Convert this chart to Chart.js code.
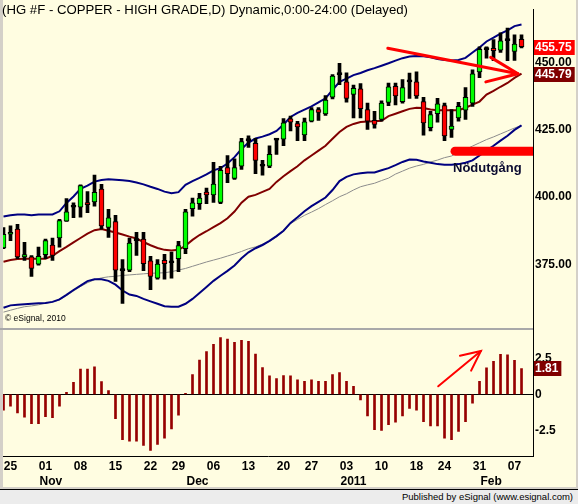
<!DOCTYPE html>
<html>
<head>
<meta charset="utf-8">
<script src="https://cdn.jsdelivr.net/npm/chart.js@4.4.1/dist/chart.umd.min.js"></script>
<style>
  body { margin: 0; width: 578px; height: 504px; position: relative; overflow: hidden; background: #d4d0c8; }
  #pane { position: absolute; left: 3px; top: 0; width: 573px; height: 487px; background: #fffde1; }
  #chart { position: absolute; left: 0; top: 0; }
  .lbl { position: absolute; white-space: nowrap; font-family: "Liberation Sans", Arial, sans-serif; color: #000; }
  #status { position: absolute; left: 0; top: 489px; width: 578px; height: 15px; background: #ececec; border-top: 1px solid #000; }
</style>
</head>
<body>
<div id="pane"></div>
<canvas id="chart" width="578" height="488"></canvas>
<div class="lbl" style="left:2px; top:2px; font-size:13.2px;">(HG #F - COPPER - HIGH GRADE,D) Dynamic,0:00-24:00 (Delayed)</div>
<div class="lbl" style="left:5px; top:313px; font-size:8.5px;">© eSignal, 2010</div>
<div class="lbl" style="left:453px; top:160px; font-size:13px; font-weight:bold; color:#0a0a30;">Nödutgång</div>
<div id="status"><div class="lbl" style="right:5px; top:1px; font-size:9.5px;">Published by eSignal (www.esignal.com)</div></div>
<script>
// daily bars, Oct 22 2010 .. Feb 8 2011
const open = [381.1, 386.2, 388.1, 377.8, 377.8, 375.1, 378.6, 382.2, 384.8, 391.0,
  396.2, 396.2, 397.8, 398.2, 402.9, 388.7, 390.9, 372.7, 372.9, 383.8,
  384.4, 376.3, 369.9, 376.5, 375.6, 377.1, 380.8, 395.7, 397.5, 401.8,
  400.8, 398.0, 410.9, 406.9, 411.4, 420.9, 419.9, 411.4, 411.4, 421.1,
  421.5, 429.0, 427.2, 423.0, 428.1, 432.4, 430.8, 437.0, 445.4, 442.7,
  438.1, 440.1, 432.4, 428.4, 428.8, 435.1, 441.1, 435.4, 442.7, 442.7,
  435.4, 425.7, 430.9, 433.9, 425.1, 429.3, 432.2, 434.8, 446.4, 454.7,
  455.2, 454.5, 458.0, 454.0, 458.5];
const high = [388.7, 389.3, 389.9, 383.2, 378.3, 381.4, 384.4, 384.8, 391.7, 399.4,
  397.8, 404.5, 402.0, 408.1, 404.7, 395.4, 393.2, 376.8, 384.8, 386.9,
  386.9, 378.0, 376.8, 378.7, 379.6, 383.6, 395.4, 399.6, 401.4, 403.3,
  412.9, 411.4, 415.4, 414.2, 421.8, 422.7, 421.8, 413.6, 419.0, 421.8,
  429.1, 430.0, 428.1, 429.3, 433.2, 433.2, 437.6, 445.4, 449.6, 446.1,
  441.5, 442.1, 434.8, 431.8, 435.7, 442.3, 442.3, 443.6, 446.0, 446.4,
  437.0, 431.8, 436.6, 434.8, 432.4, 435.1, 440.6, 447.2, 455.7, 455.7,
  458.4, 460.9, 462.7, 460.2, 460.2];
const low = [380.8, 383.8, 377.1, 376.5, 370.5, 374.7, 377.1, 376.5, 381.4, 390.9,
  392.3, 392.5, 394.2, 396.6, 388.1, 385.0, 368.7, 360.5, 372.3, 378.3,
  372.7, 365.6, 369.5, 369.5, 369.9, 372.3, 379.0, 392.9, 395.4, 397.5,
  398.0, 397.5, 405.3, 406.5, 410.2, 418.4, 408.7, 408.1, 410.9, 415.8,
  419.0, 424.5, 420.9, 420.9, 427.9, 428.4, 430.3, 436.4, 441.7, 435.2,
  429.3, 429.3, 425.1, 425.5, 428.1, 433.9, 434.2, 434.8, 436.6, 436.6,
  422.9, 424.5, 427.8, 420.9, 422.1, 428.1, 428.8, 433.6, 444.3, 451.5,
  450.6, 453.6, 450.6, 450.7, 455.3];
const close = [386.2, 386.6, 377.8, 378.6, 373.5, 378.0, 383.8, 378.3, 391.3, 394.5,
  396.2, 404.2, 397.2, 401.7, 389.3, 392.3, 372.9, 372.7, 382.9, 383.8,
  375.3, 370.5, 375.1, 375.3, 375.6, 382.0, 394.5, 397.8, 399.6, 400.8,
  404.8, 409.9, 408.7, 410.9, 420.6, 420.9, 413.6, 411.4, 415.8, 421.1,
  427.5, 427.8, 426.0, 427.9, 432.4, 431.4, 436.0, 444.9, 445.4, 436.6,
  440.3, 432.8, 428.1, 426.9, 434.8, 440.9, 437.5, 440.6, 442.7, 437.5,
  427.5, 430.6, 434.6, 422.7, 426.3, 433.6, 437.0, 445.7, 454.8, 454.7,
  454.3, 457.9, 458.0, 456.7, 455.75];

// bollinger bands (20) and the slow average
const upperBand = [392.8, 393.2, 393.5, 393.5, 393.2, 393.5, 393.5, 393.5, 394.7, 397.8,
  400.2, 403.0, 404.2, 405.7, 406.3, 406.6, 406.4, 406.2, 405.9, 405.4,
  404.7, 403.8, 403.0, 402.0, 401.4, 401.8, 404.5, 405.9, 407.1, 408.4,
  409.9, 410.7, 412.4, 414.8, 417.8, 420.2, 421.7, 422.4, 423.3, 424.5,
  426.9, 429.7, 431.2, 432.4, 433.6, 435.1, 436.6, 439.7, 442.7, 443.9,
  445.2, 446.0, 447.0, 447.8, 448.7, 449.6, 450.6, 451.5, 452.1, 452.3,
  452.2, 451.8, 451.2, 450.8, 450.6, 450.8, 451.6, 453.6, 455.5, 457.7,
  459.1, 460.6, 461.8, 463.4, 464.0];
const midBand = [376.0, 376.6, 377.0, 377.1, 377.1, 377.1, 377.1, 378.2, 379.9, 381.5,
  383.2, 384.8, 386.4, 387.7, 388.1, 387.5, 386.8, 386.1, 385.3, 384.6,
  383.3, 382.1, 381.1, 380.4, 380.2, 380.4, 381.9, 384.1, 385.9, 387.3,
  388.8, 390.3, 392.1, 394.6, 397.9, 400.1, 400.8, 401.9, 403.0, 405.6,
  407.7, 409.6, 411.4, 413.6, 415.4, 417.2, 419.0, 421.6, 424.1, 426.0,
  427.1, 427.8, 428.0, 428.1, 428.3, 430.0, 430.9, 431.8, 432.7, 433.1,
  433.0, 432.5, 432.2, 432.2, 432.2, 432.2, 433.1, 434.3, 435.4, 438.0,
  439.4, 440.9, 442.3, 444.2, 445.79];
const lowerBand = [358.9, 359.8, 360.0, 360.2, 360.4, 360.6, 360.7, 361.1, 362.0, 363.7,
  365.5, 367.1, 368.8, 369.5, 369.5, 368.9, 367.5, 365.3, 363.8, 363.3,
  362.2, 361.3, 360.4, 359.5, 359.3, 359.3, 360.4, 362.2, 364.4, 366.6,
  368.9, 370.8, 372.6, 374.6, 377.3, 379.5, 381.0, 382.2, 383.7, 385.5,
  387.5, 390.4, 392.5, 394.7, 396.6, 398.2, 399.8, 402.6, 405.9, 407.5,
  408.4, 408.8, 409.1, 409.1, 409.9, 410.7, 411.8, 413.0, 413.9, 413.8,
  413.2, 412.7, 412.2, 412.0, 412.0, 412.2, 412.7, 413.6, 415.4, 417.2,
  419.0, 420.9, 422.7, 424.9, 426.6];
const slowAvg = [357.3, 358.0, 358.7, 359.3, 359.6, 360.0, 360.6, 361.1, 361.8, 363.5,
  365.1, 366.8, 368.2, 369.3, 370.0, 370.4, 370.6, 370.9, 371.1, 371.3,
  371.5, 371.7, 371.8, 371.9, 372.3, 372.9, 373.5, 374.3, 375.1, 375.9,
  376.6, 377.3, 378.1, 378.9, 379.8, 380.8, 381.5, 382.5, 383.5, 385.2,
  387.3, 390.1, 391.7, 393.2, 394.4, 395.7, 397.2, 398.6, 400.1, 401.2,
  402.6, 403.8, 404.5, 405.1, 406.1, 407.0, 408.5, 409.6, 410.7, 411.5,
  412.1, 413.0, 413.7, 414.6, 415.2, 416.5, 417.6, 418.9, 420.1, 421.3,
  422.3, 423.4, 424.5, 425.6, 426.5];

// oscillator histogram (lower pane)
const osc = [-1.10, -0.82, -1.28, -1.58, -2.03, -2.03, -1.55, -1.62, -0.82, 0.14,
  0.84, 1.76, 1.76, 1.92, 0.89, 0.27, -1.69, -3.15, -3.26, -3.26,
  -3.56, -3.90, -3.49, -3.04, -2.40, -1.44, 0.07, 1.39, 2.40, 2.99,
  3.49, 3.97, 3.86, 3.63, 3.77, 3.70, 2.81, 1.87, 1.30, 1.10,
  1.32, 1.30, 1.01, 0.91, 1.01, 0.91, 0.91, 1.39, 1.53, 0.91,
  0.57, -0.39, -1.49, -2.45, -2.51, -2.10, -1.94, -1.49, -0.98, -1.10,
  -1.90, -2.19, -2.19, -3.04, -3.15, -2.58, -1.90, -0.60, 0.91, 1.85,
  2.31, 2.79, 2.76, 2.38, 1.81];

// axis ticks
const weekTicks = [1, 6, 11, 16, 21, 25, 30, 35, 40, 44, 49, 54, 59, 63, 68, 73];
const weekLabels = ['25', '01', '08', '15', '22', '29', '06', '13', '20', '27', '03', '10', '18', '24', '31', '07'];
const monthTicks = [6, 27, 49, 69];
const monthLabels = ['Nov', 'Dec', '2011', 'Feb'];
const priceTicks = [375, 400, 425, 450];
const oscTicks = [-2.5, 0, 2.5];

// hand drawn marks: [bar, value]
const priceArrow = [[54.9, 455.2], [73.5, 445.7]];
const priceArrowHead = [[69.6, 451.8], [73.5, 445.7], [68.9, 442.7]];
const exitLevel = [[64.5, 417.0], [77, 417.0]];
const oscArrow = [[62.1, 0.57], [68.2, 3.03]];
const oscArrowHead = [[65.2, 2.69], [68.2, 3.03], [66.8, 1.66]];

const bars = open.map((_, i) => i);
const last = bars.length - 1;
const FONT = '"Liberation Sans", Arial, sans-serif';
const xMin = -0.07, xMax = 75.64;

const pts = arr => arr.map(p => ({ x: p[0], y: p[1] }));
const lineSet = (data, color, width, order, extra) => Object.assign({
  type: 'line', data, borderColor: color, borderWidth: width,
  pointRadius: 0, tension: 0, order
}, extra || {});

const tags = {
  id: 'tags',
  afterDraw(chart) {
    const { ctx, chartArea, scales } = chart;
    ctx.save();
    // pane splitter
    ctx.fillStyle = '#a9a9a9';
    ctx.fillRect(0, Math.round(scales.y.bottom) - 2, chartArea.right, 2);
    const tag = (scale, v, txt, bg) => {
      const y = Math.round(scale.getPixelForValue(v));
      ctx.font = 'bold 12px ' + FONT;
      const w = ctx.measureText(txt).width + 4;
      ctx.fillStyle = bg;
      ctx.fillRect(chartArea.right + 1, y - 7, w, 15);
      ctx.fillStyle = '#ffffff';
      ctx.textBaseline = 'middle';
      ctx.textAlign = 'left';
      ctx.fillText(txt, chartArea.right + 2, y + 1);
    };
    tag(scales.y, close[last], close[last].toFixed(2), '#ff0000');
    tag(scales.y, midBand[last], midBand[last].toFixed(2), '#800000');
    tag(scales.y2, osc[last], osc[last].toFixed(2), '#800000');
    ctx.restore();
  }
};

new Chart(document.getElementById('chart'), {
  type: 'bar',
  data: {
    labels: bars,
    datasets: [
      lineSet(pts(priceArrow), '#ff0000', 3, -3, { borderCapStyle: 'round' }),
      lineSet(pts(priceArrowHead), '#ff0000', 3, -3, { borderCapStyle: 'round', borderJoinStyle: 'round' }),
      lineSet(pts(exitLevel), '#ff0000', 9, -3, { borderCapStyle: 'round', clip: 0 }),
      lineSet(pts(oscArrow), '#ff0000', 2, -3, { yAxisID: 'y2', borderCapStyle: 'round' }),
      lineSet(pts(oscArrowHead), '#ff0000', 2, -3, { yAxisID: 'y2', borderCapStyle: 'round' }),
      {
        data: open.map((o, i) => [Math.min(o, close[i]), Math.max(o, close[i])]),
        backgroundColor: open.map((o, i) => close[i] > o ? '#00ff00' : close[i] < o ? '#ff0000' : '#000000'),
        borderColor: '#000000', borderWidth: 1, borderSkipped: false,
        barThickness: 5, maxBarThickness: 5, minBarLength: 2, grouped: false, order: 0
      },
      {
        data: low.map((l, i) => [l, high[i]]),
        backgroundColor: '#000000', barThickness: 3, maxBarThickness: 3,
        grouped: false, order: 1
      },
      lineSet(upperBand, '#000080', 2, 2),
      lineSet(lowerBand, '#000080', 2, 2),
      lineSet(midBand, '#800000', 2, 2),
      lineSet(slowAvg, '#8c8c8c', 1, 3),
      {
        data: osc, yAxisID: 'y2', backgroundColor: '#960000',
        barThickness: 2, maxBarThickness: 2, grouped: false, order: 1
      }
    ]
  },
  options: {
    responsive: false,
    animation: false,
    events: [],
    layout: { padding: { left: 3, right: 2, top: 1, bottom: 0 } },
    plugins: { legend: { display: false }, tooltip: { enabled: false } },
    scales: {
      x: {
        type: 'linear', min: xMin, max: xMax, offset: false,
        grid: { display: false, drawTicks: false },
        border: { display: true, color: '#000000', width: 1 },
        afterBuildTicks: a => { a.ticks = weekTicks.map(v => ({ value: v })); },
        afterFit: a => { a.height = 18; },
        ticks: {
          autoSkip: false, maxRotation: 0, padding: 3, color: '#000000',
          font: { family: FONT, size: 12, weight: 'bold' },
          callback: v => weekLabels[weekTicks.indexOf(v)]
        }
      },
      xm: {
        type: 'linear', position: 'bottom', min: xMin, max: xMax, offset: false,
        grid: { display: false, drawTicks: false },
        border: { display: false },
        afterBuildTicks: a => { a.ticks = monthTicks.map(v => ({ value: v })); },
        afterFit: a => { a.height = 14; },
        ticks: {
          autoSkip: false, maxRotation: 0, padding: 0, align: 'start', labelOffset: -6,
          color: '#000000', font: { family: FONT, size: 12, weight: 'bold' },
          callback: v => monthLabels[monthTicks.indexOf(v)]
        }
      },
      y: {
        type: 'linear', position: 'right', stack: 'panes', stackWeight: 327,
        min: 350.55, max: 469.67, beginAtZero: false,
        grid: { display: false, drawTicks: false },
        border: { display: true, color: '#000000', width: 1 },
        afterBuildTicks: a => { a.ticks = priceTicks.map(v => ({ value: v })); },
        afterFit: a => { a.width = 43; },
        ticks: {
          padding: 2, color: '#000000',
          font: { family: FONT, size: 12, weight: 'bold' },
          callback: v => v.toFixed(2)
        }
      },
      y2: {
        type: 'linear', position: 'right', stack: 'panes', stackWeight: 128,
        min: -4.29, max: 4.47, beginAtZero: false,
        grid: {
          drawTicks: false, lineWidth: 1,
          color: c => (c.tick && c.tick.value === 0) ? '#000000' : 'rgba(0,0,0,0)'
        },
        border: { display: true, color: '#000000', width: 1 },
        afterBuildTicks: a => { a.ticks = oscTicks.map(v => ({ value: v })); },
        afterFit: a => { a.width = 43; },
        ticks: {
          padding: 2, color: '#000000',
          font: { family: FONT, size: 12, weight: 'bold' },
          callback: v => v === 0 ? '0' : String(v)
        }
      }
    }
  },
  plugins: [tags]
});
</script>
</body>
</html>
